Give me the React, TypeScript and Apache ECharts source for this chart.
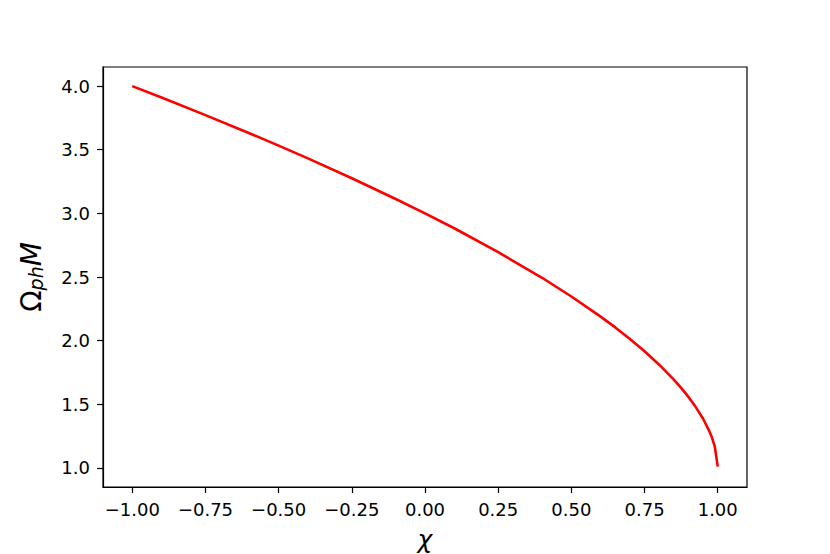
import React, { useEffect, useRef } from "react";
import * as echarts from "echarts";

const chi = [-1.0, -0.9, -0.75, -0.6, -0.5, -0.4, -0.25, -0.1, 0.0, 0.1, 0.25, 0.4, 0.5, 0.6, 0.65, 0.7, 0.75, 0.8, 0.85, 0.875, 0.9, 0.925, 0.95, 0.97, 0.98, 0.99, 1.0];
const omegaM = [4.0, 3.91, 3.772, 3.63, 3.532, 3.432, 3.276, 3.113, 3.0, 2.883, 2.695, 2.494, 2.347, 2.189, 2.104, 2.013, 1.916, 1.811, 1.693, 1.629, 1.558, 1.478, 1.386, 1.295, 1.24, 1.168, 1.01];

const xTicks = [-1.0, -0.75, -0.5, -0.25, 0.0, 0.25, 0.5, 0.75, 1.0];
const yTicks = [1.0, 1.5, 2.0, 2.5, 3.0, 3.5, 4.0];

const FONT = "DejaVu Sans";
const fmt = (v: number, d: number) => v.toFixed(d).replace("-", "\u2212");

export default function App() {
  const ref = useRef<HTMLDivElement>(null);
  useEffect(() => {
    if (!ref.current) return;
    const chart = echarts.init(ref.current, null, { renderer: "svg" });
    chart.setOption({
      animation: false,
      backgroundColor: "#fff",
      grid: {
        left: 103,
        top: 67,
        right: 83,
        bottom: 67,
        outerBoundsMode: "none",
        containLabel: false,
        show: true,
        borderColor: "#000",
        borderWidth: 1.2,
        backgroundColor: "transparent",
      },
      xAxis: {
        type: "value",
        min: -1.1,
        max: 1.1,
        name: "χ",
        nameLocation: "middle",
        nameGap: 40,
        nameTextStyle: { fontFamily: FONT, fontSize: 25, fontStyle: "italic", color: "#000" },
        axisLine: { show: true, onZero: false, lineStyle: { color: "#000", width: 1.2 } },
        axisTick: { show: true, length: 6, lineStyle: { color: "#000", width: 1.2 }, customValues: xTicks },
        axisLabel: {
          customValues: xTicks,
          margin: 13,
          fontFamily: FONT,
          fontSize: 18,
          color: "#000",
          formatter: (v: number) => fmt(v, 2),
        },
        splitLine: { show: false },
      },
      yAxis: {
        type: "value",
        min: 0.85,
        max: 4.15,
        name: "{o|Ω}{s|ph}{m|M}",
        nameLocation: "middle",
        nameRotate: 90,
        nameGap: 58,
        nameTextStyle: {
          color: "#000",
          rich: {
            o: { fontFamily: FONT, fontSize: 28, color: "#000", lineHeight: 32, verticalAlign: "bottom" },
            s: { fontFamily: FONT, fontSize: 19, fontStyle: "italic", color: "#000", lineHeight: 32, verticalAlign: "bottom" },
            m: { fontFamily: FONT, fontSize: 28, fontStyle: "italic", color: "#000", lineHeight: 32, verticalAlign: "bottom" },
          },
        },
        axisLine: { show: true, onZero: false, lineStyle: { color: "#000", width: 1.2 } },
        axisTick: { show: true, length: 6, lineStyle: { color: "#000", width: 1.2 }, customValues: yTicks },
        axisLabel: {
          customValues: yTicks,
          margin: 13,
          fontFamily: FONT,
          fontSize: 18,
          color: "#000",
          formatter: (v: number) => fmt(v, 1),
        },
        splitLine: { show: false },
      },
      series: [
        {
          type: "line",
          data: chi.map((c, i) => [c, omegaM[i]]),
          showSymbol: false,
          symbol: "none",
          lineStyle: { color: "#ff0000", width: 2.6 },
          smooth: false,
        },
      ],
    });
    return () => chart.dispose();
  }, []);
  return <div ref={ref} style={{ width: 830, height: 554, position: "absolute", left: 0, top: 0 }} />;
}
